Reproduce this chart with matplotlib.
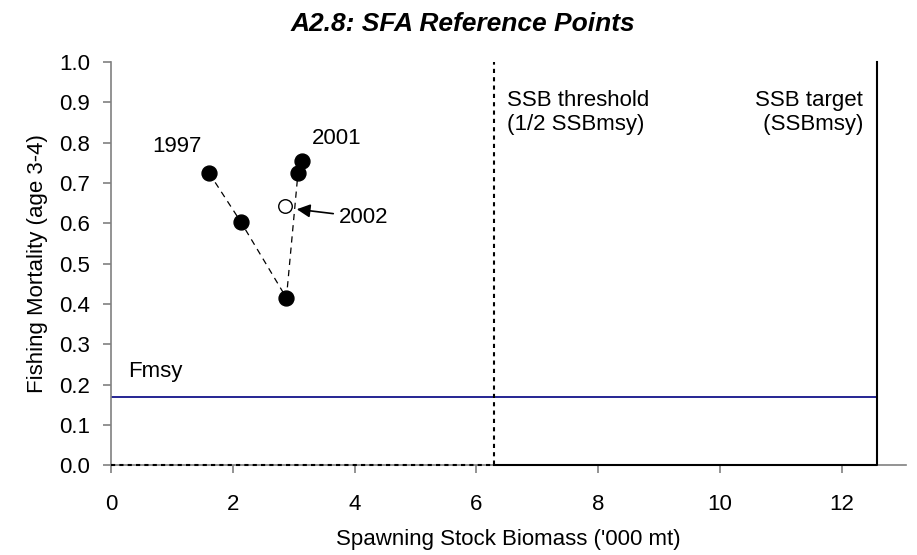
import matplotlib
matplotlib.use("Agg")
import matplotlib.pyplot as plt

plt.rcParams['font.family'] = ['Liberation Sans', 'DejaVu Sans']

# Data
ssb = [1.61, 2.13, 2.88, 3.07, 3.13]          # 1997-2001
fmort = [0.725, 0.604, 0.415, 0.725, 0.754]
ssb_2002 = [2.86]
f_2002 = [0.643]
fmsy = 0.17
ssb_threshold = 6.285
ssb_target = 12.57
xticks = [0, 2, 4, 6, 8, 10, 12]
yticks = [0.0, 0.1, 0.2, 0.3, 0.4, 0.5, 0.6, 0.7, 0.8, 0.9, 1.0]

FS = 16

fig = plt.figure(figsize=(9.17, 5.55), dpi=100)
ax = fig.add_axes([0.121, 0.162, 0.867, 0.726])

# reference lines
ax.plot([0, ssb_target], [fmsy, fmsy], color='#000080', lw=1.2, zorder=2)
ax.plot([0, ssb_threshold, ssb_threshold], [0, 0, 1.0], color='black', lw=1.5,
        linestyle=(0, (2, 2)), zorder=3, clip_on=False)
ax.plot([ssb_threshold, ssb_target, ssb_target], [0, 0, 1.0], color='black', lw=1.5,
        zorder=3, clip_on=False)

# trajectory
ax.plot(ssb, fmort, color='black', lw=0.9, linestyle=(0, (5, 4)), zorder=4)
ax.scatter(ssb, fmort, s=115, color='black', zorder=5)
ax.scatter(ssb_2002, f_2002, s=95, facecolor='white', edgecolor='black', lw=1.0, zorder=5)

# annotations
ax.text(1.08, 0.79, '1997', fontsize=FS, ha='center', va='center')
ax.text(3.71, 0.81, '2001', fontsize=FS, ha='center', va='center')
ax.annotate('2002', xy=(3.05, 0.635), xytext=(3.74, 0.615), fontsize=FS,
            ha='left', va='center',
            arrowprops=dict(arrowstyle='-|>', color='black', lw=1.2,
                            mutation_scale=20, shrinkA=2, shrinkB=0))
ax.text(0.28, 0.205, 'Fmsy', fontsize=FS, ha='left', va='bottom')
ax.text(6.5, 0.875, 'SSB threshold\n(1/2 SSBmsy)', fontsize=FS, ha='left', va='center',
        linespacing=1.15)
ax.text(12.35, 0.875, 'SSB target\n (SSBmsy)', fontsize=FS, ha='right', va='center',
        linespacing=1.15)

ax.set_xlim(0, 13.05)
ax.set_ylim(0, 1.0)
ax.set_xticks(xticks)
ax.set_yticks(yticks)
ax.set_xticklabels([str(v) for v in xticks], fontsize=FS)
ax.set_yticklabels([f'{v:.1f}' for v in yticks], fontsize=FS)
ax.tick_params(direction='out', length=6, color='#808080', width=1.2)
ax.tick_params(axis='x', pad=15)
ax.tick_params(axis='y', pad=9)
for s in ['top', 'right']:
    ax.spines[s].set_visible(False)
for s in ['left', 'bottom']:
    ax.spines[s].set_color('#808080')
    ax.spines[s].set_linewidth(1.2)

ax.set_xlabel("Spawning Stock Biomass ('000 mt)", fontsize=FS, labelpad=10)
ax.set_ylabel('Fishing Mortality (age 3-4)', fontsize=FS, labelpad=8)
fig.text(0.505, 0.957, 'A2.8: SFA Reference Points', fontsize=19, fontweight='bold',
         fontstyle='italic', ha='center', va='center')

fig.savefig('out.png', dpi=100)
